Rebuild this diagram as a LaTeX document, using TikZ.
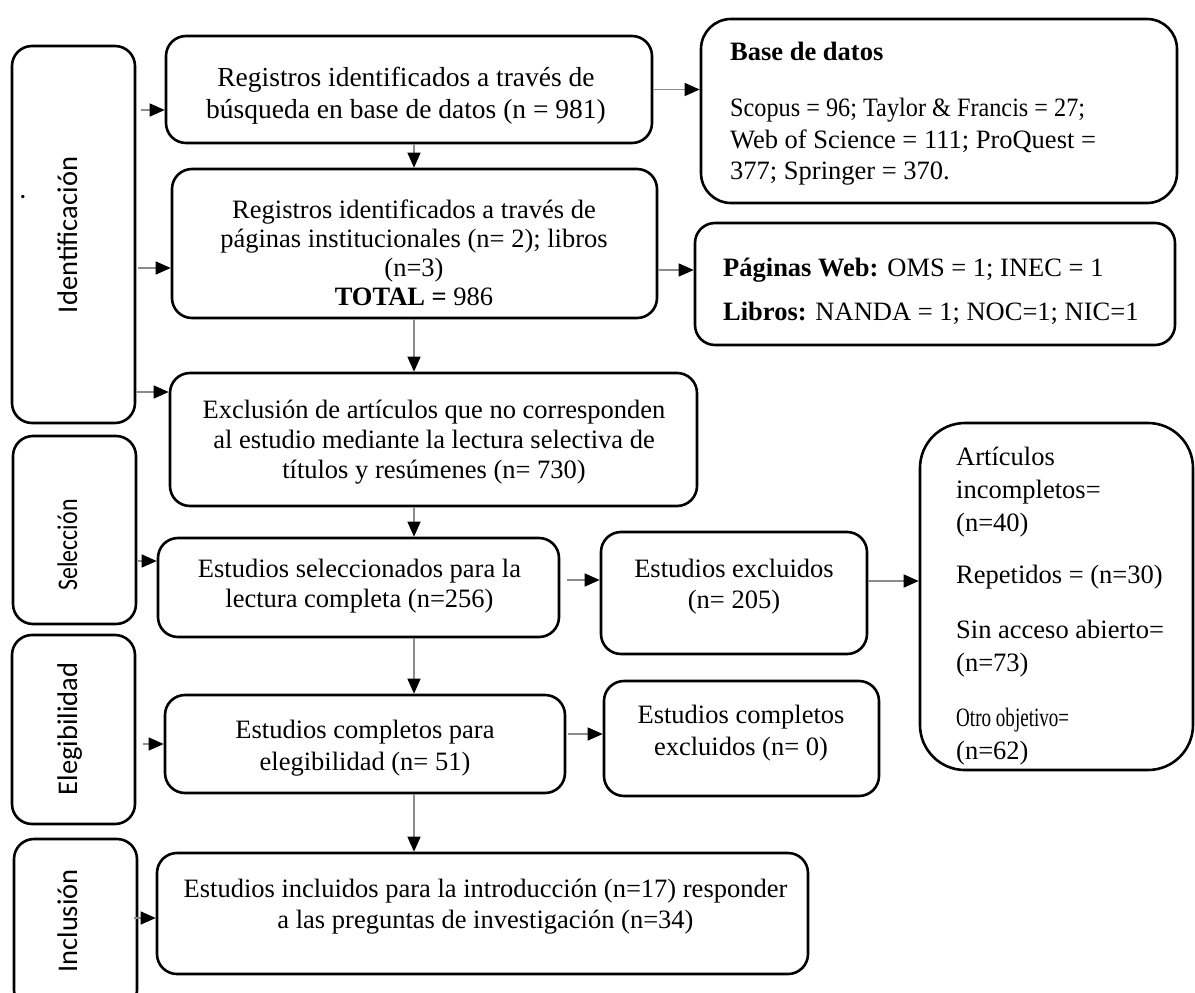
\documentclass[tikz,border=0pt]{standalone}
\usepackage{graphicx}
\usepackage{fontspec}
\setmainfont{Liberation Serif}
\newfontfamily\phasefont{Carlito}
\usetikzlibrary{arrows.meta}
\definecolor{linegray}{gray}{0.55}
\tikzset{
  box/.style={draw=black, line width=2.6pt, rounded corners=20pt, inner sep=0pt},
  txt/.style={inner sep=0pt, align=center, anchor=north, font=\fontsize{26.5}{31}\selectfont},
  ltxt/.style={inner sep=0pt, align=left, anchor=north west, font=\fontsize{26.5}{31}\selectfont},
  plabel/.style={inner sep=0pt, font=\phasefont\fontsize{28.5}{34}\selectfont, rotate=90, anchor=base},
  arr/.style={draw=linegray, line width=1.3pt, -{Triangle[length=15pt,width=13pt,color=black,fill=black]}},
}
\begin{document}
\begin{tikzpicture}[x=1pt,y=-1pt]
\useasboundingbox (0,0) rectangle (1195,993);
\clip (0,0) rectangle (1195,993);

% phase boxes
\node[box, minimum width=123pt, minimum height=377pt] (idf) at (73.5,234.5) {};
\node[box, minimum width=123pt, minimum height=188pt] (sel) at (74.5,530) {};
\node[box, minimum width=123pt, minimum height=189pt] (eleg) at (73.5,729.5) {};
\node[box, minimum width=123pt, minimum height=171pt] (incl) at (75.5,924.5) {};
\node[plabel] (lidf) at (77,235) {Identificación};
\node[plabel] (lsel) at (77,545) {\scalebox{0.84}[1]{Selección}};
\node[plabel] (leleg) at (77,729) {Elegibilidad};
\node[plabel] (lincl) at (77,921) {Inclusión};
\node[inner sep=0pt, font=\phasefont\fontsize{28}{34}\selectfont] (dot) at (23,197) {.};

% main boxes
\node[box, minimum width=486pt, minimum height=107pt] (b1) at (409,89.5) {};
\node[box, minimum width=485pt, minimum height=149pt] (b2) at (414.5,243.5) {};
\node[box, minimum width=527pt, minimum height=133pt] (b3) at (433.5,439.5) {};
\node[box, minimum width=401pt, minimum height=99pt] (b4) at (358.5,587.5) {};
\node[box, minimum width=266pt, minimum height=122pt] (b5) at (734,593) {};
\node[box, rounded corners=45pt, minimum width=273pt, minimum height=347pt] (b6) at (1056.5,596.5) {};
\node[box, minimum width=400pt, minimum height=98pt] (b7) at (365,744) {};
\node[box, minimum width=275pt, minimum height=115pt] (b8) at (741.5,738.5) {};
\node[box, minimum width=651pt, minimum height=121pt] (b9) at (482.5,913.5) {};
\node[box, rounded corners=30pt, minimum width=476pt, minimum height=184pt] (bd) at (939,111) {};
\node[box, minimum width=480pt, minimum height=122pt] (pw) at (935,284) {};

% texts
\node[txt, font=\fontsize{27.5}{32}\selectfont] (t1) at (406,63.6) {\strut Registros identificados a través de\\ búsqueda en base de datos (n = 981)};
\node[txt, font=\fontsize{26.5}{29}\selectfont] (t2) at (414,197.7) {\strut Registros identificados a través de\\ páginas institucionales (n= 2); libros\\ (n=3)\\ \textbf{TOTAL =} 986};
\node[txt, font=\fontsize{26.5}{30}\selectfont] (t3) at (434,397) {\strut Exclusión de artículos que no corresponden\\ al estudio mediante la lectura selectiva de\\ títulos y resúmenes (n= 730)};
\node[txt, font=\fontsize{26.5}{30}\selectfont] (t4) at (359.5,556) {\strut Estudios seleccionados para la\\ lectura completa (n=256)};
\node[txt] (t5) at (734,555.3) {\strut Estudios excluidos\\ (n= 205)};
\node[txt, font=\fontsize{26.5}{32}\selectfont] (t7) at (365,715.6) {\strut Estudios completos para\\ elegibilidad (n= 51)};
\node[txt, font=\fontsize{26.5}{32}\selectfont] (t8) at (741,700.6) {\strut Estudios completos\\ excluidos (n= 0)};
\node[txt] (t9) at (485.5,875.3) {\strut Estudios incluidos para la introducción (n=17) responder\\ a las preguntas de investigación (n=34)};
\node[ltxt, font=\fontsize{26.5}{31.5}\selectfont] (tbd) at (730,38) {\strut\textbf{Base de datos}\\[25pt] \scalebox{0.915}[1]{Scopus = 96; Taylor \& Francis = 27;}\\ Web of Science = 111; ProQuest =\\ 377; Springer = 370.};
\node[ltxt] (tpw) at (723,254.3) {\strut\textbf{Páginas Web:} OMS = 1; INEC = 1\\[13pt] \textbf{Libros:} NANDA = 1; NOC=1; NIC=1};
\node[ltxt, font=\fontsize{26.5}{33}\selectfont] (t6) at (956,441.9) {\strut Artículos\\ incompletos=\\ (n=40)\\[19pt] Repetidos = (n=30)\\[22pt] Sin acceso abierto=\\ (n=73)\\[22pt] \scalebox{0.72}[1]{Otro objetivo=}\\ (n=62)};

% connectors
\draw[arr] (b1.east) -- (bd.west |- b1.east);
\draw[arr] (b1.south -| 414,0) -- (b2.north -| 414,0);
\draw[arr] (b2.east |- 0,270) -- (pw.west |- 0,270);
\draw[arr] (b2.south -| 414,0) -- (b3.north -| 414,0);
\draw[arr] (b3.south -| 414,0) -- (b4.north -| 414,0);
\draw[arr, shorten <=7pt] (b4.east |- 0,580) -- (b5.west |- 0,580);
\draw[arr] (b5.east |- 0,581) -- (b6.west |- 0,581);
\draw[arr] (b4.south -| 414,0) -- (b7.north -| 414,0);
\draw[arr, shorten <=2pt] (b7.east |- 0,734) -- (b8.west |- 0,734);
\draw[arr] (b7.south -| 414,0) -- (b9.north -| 414,0);
\draw[arr, shorten <=5pt] (idf.east |- 0,110) -- (b1.west |- 0,110);
\draw[arr, shorten <=2pt] (idf.east |- 0,268) -- (b2.west |- 0,268);
\draw[arr] (idf.east |- 0,392) -- (b3.west |- 0,392);
\draw[arr, shorten <=1pt] (sel.east |- 0,561) -- (b4.west |- 0,561);
\draw[arr, shorten <=7pt] (eleg.east |- 0,744) -- (b7.west |- 0,744);
\draw[arr, shorten <=-4pt] (incl.east |- 0,918) -- (b9.west |- 0,918);
\end{tikzpicture}
\end{document}
